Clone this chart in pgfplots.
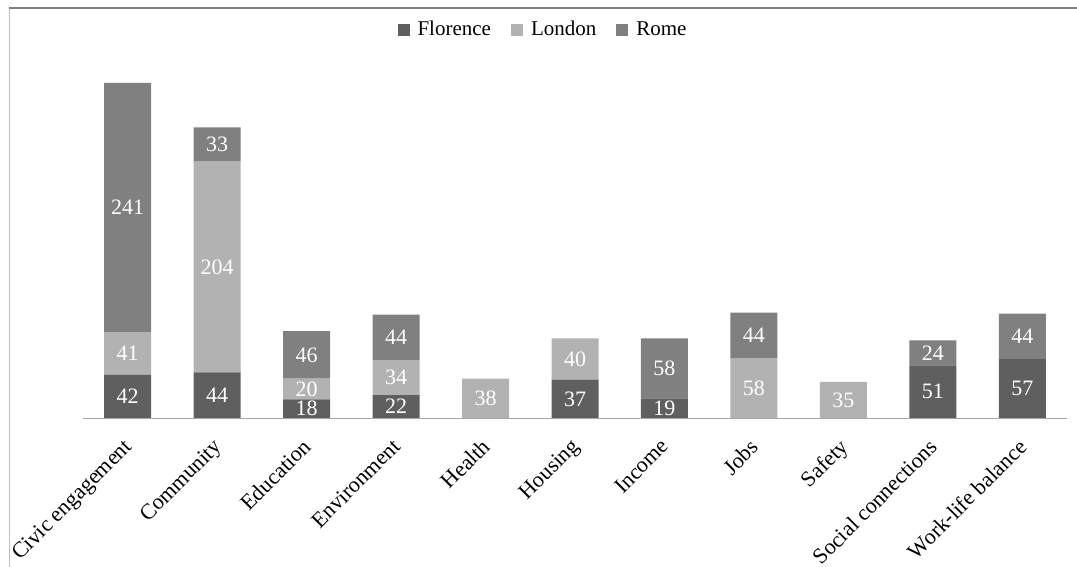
\documentclass[border=0pt]{standalone}
\usepackage{pgfplots}
\pgfplotsset{compat=1.18}
\usepackage{fontspec}
\setmainfont{Liberation Serif}
\definecolor{flor}{RGB}{95,95,95}
\definecolor{lond}{RGB}{178,178,178}
\definecolor{rome}{RGB}{128,128,128}
\begin{document}
\begin{tikzpicture}
\useasboundingbox (-41.5pt,-74.5pt) rectangle (497pt,209pt);
\draw[black!25] (-37pt,205pt) -- (-37pt,-74.5pt);
\draw[black!50,line width=0.8pt] (-37pt,205pt) -- (497pt,205pt);
\begin{axis}[
  at={(0pt,0pt)}, anchor=south west,
  scale only axis,
  width=492pt, height=175.8pt,
  ybar stacked, bar width=23.5pt,
  xmin=-0.5, xmax=10.5, ymin=0, ymax=340,
  axis x line=bottom, axis y line=none,
  axis line style={black!35, -},
  x axis line style={-},
  xtick={0,...,10}, major tick length=0pt,
  xticklabels={Civic engagement,Community,Education,Environment,Health,Housing,Income,Jobs,Safety,Social connections,Work-life balance},
  xticklabel style={rotate=45, anchor=north east, font=\fontsize{11}{12}\selectfont, inner sep=1pt, yshift=-4pt, xshift=-7.5pt},
  legend style={at={(axis description cs:0.4685,1.1035)}, anchor=center, draw=none, font=\fontsize{10.5}{12}\selectfont, legend columns=3, /tikz/every even column/.append style={column sep=8pt}},
  legend image code/.code={\fill[#1] (0pt,-3pt) rectangle (6pt,3pt); \path (0pt,0pt) -- (8pt,0pt);},
  /pgf/number format/assume math mode=true,
  visualization depends on=rawy \as \rawy,
  nodes near coords={\pgfmathfloatifflags{\pgfplotspointmeta}{0}{}{\pgfmathprintnumber{\pgfplotspointmeta}}},
  point meta=rawy,
  every node near coord/.append style={anchor=center, text=white, font=\fontsize{11}{12}\selectfont},
  clip=false,
]
\addplot[fill=flor, draw=none] coordinates {(0,42) (1,44) (2,18) (3,22) (4,0) (5,37) (6,19) (7,0) (8,0) (9,51) (10,57)};
\addplot[fill=lond, draw=none] coordinates {(0,41) (1,204) (2,20) (3,34) (4,38) (5,40) (6,0) (7,58) (8,35) (9,0) (10,0)};
\addplot[fill=rome, draw=none] coordinates {(0,241) (1,33) (2,46) (3,44) (4,0) (5,0) (6,58) (7,44) (8,0) (9,24) (10,44)};
\legend{Florence,London,Rome}
\end{axis}
\end{tikzpicture}
\end{document}
